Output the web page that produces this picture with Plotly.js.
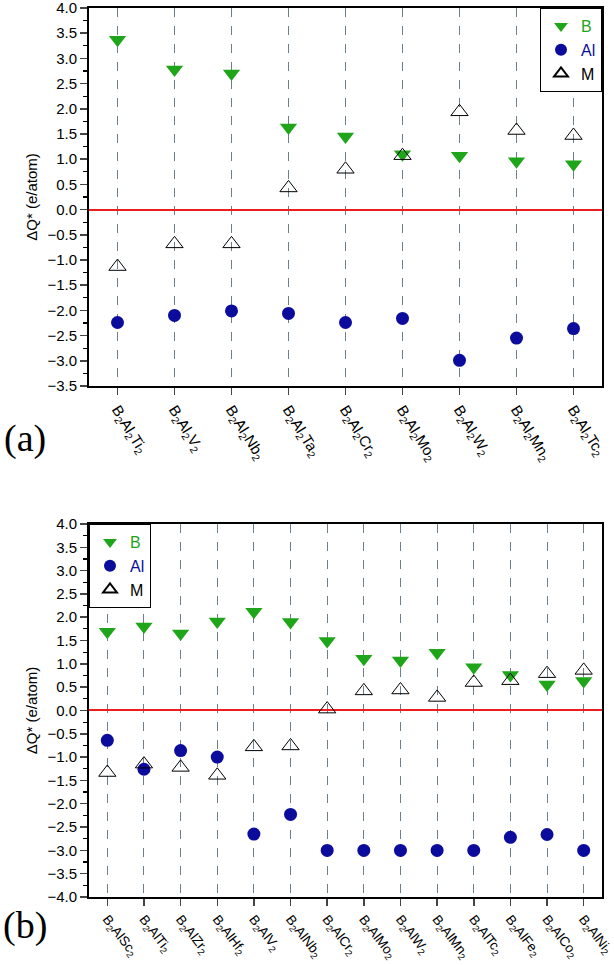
<!DOCTYPE html>
<html>
<head>
<meta charset="utf-8">
<script src="https://cdn.plot.ly/plotly-3.0.1.min.js"></script>
<style>
  html, body { margin: 0; padding: 0; background: #fff; }
  #chart { width: 614px; height: 965px; }
</style>
</head>
<body>
<div id="chart"></div>
<script>
// panel (a): B2Al2M2
const catsA = ['B<sub>2</sub>Al<sub>2</sub>Ti<sub>2</sub>', 'B<sub>2</sub>Al<sub>2</sub>V<sub>2</sub>',
  'B<sub>2</sub>Al<sub>2</sub>Nb<sub>2</sub>', 'B<sub>2</sub>Al<sub>2</sub>Ta<sub>2</sub>',
  'B<sub>2</sub>Al<sub>2</sub>Cr<sub>2</sub>', 'B<sub>2</sub>Al<sub>2</sub>Mo<sub>2</sub>',
  'B<sub>2</sub>Al<sub>2</sub>W<sub>2</sub>', 'B<sub>2</sub>Al<sub>2</sub>Mn<sub>2</sub>',
  'B<sub>2</sub>Al<sub>2</sub>Tc<sub>2</sub>'];
const bA = [3.37, 2.78, 2.70, 1.63, 1.45, 1.10, 1.07, 0.96, 0.90];
const alA = [-2.24, -2.10, -2.01, -2.06, -2.24, -2.16, -2.99, -2.55, -2.36];
const mA = [-1.13, -0.68, -0.68, 0.43, 0.80, 1.07, 1.94, 1.57, 1.47];

// panel (b): B2AlM2
const catsB = ['Sc', 'Ti', 'Zr', 'Hf', 'V', 'Nb', 'Cr', 'Mo', 'W', 'Mn', 'Tc', 'Fe', 'Co', 'Ni']
  .map(m => 'B<sub>2</sub>Al' + m + '<sub>2</sub>');
const bB = [1.69, 1.80, 1.65, 1.91, 2.12, 1.90, 1.49, 1.11, 1.07, 1.24, 0.93, 0.76, 0.56, 0.63];
const alB = [-0.64, -1.26, -0.86, -1.00, -2.65, -2.23, -3.00, -3.00, -3.00, -3.00, -3.00, -2.72, -2.66, -3.00];
const mB = [-1.33, -1.15, -1.22, -1.39, -0.78, -0.76, 0.03, 0.42, 0.44, 0.28, 0.60, 0.64, 0.79, 0.86];

const green = '#1fa51a';
const blue = '#0c0c9c';
const font = 'Liberation Sans, Arial, sans-serif';

function series(x, b, al, m, xa, ya, leg) {
  return [
    { x: x, y: b, xaxis: xa, yaxis: ya, legend: leg, type: 'scatter', mode: 'markers',
      name: '<span style="color:' + green + '">B</span>',
      marker: { symbol: 'triangle-down', size: 15, color: green } },
    { x: x, y: al, xaxis: xa, yaxis: ya, legend: leg, type: 'scatter', mode: 'markers',
      name: '<span style="color:' + blue + '">Al</span>',
      marker: { symbol: 'circle', size: 13, color: blue } },
    { x: x, y: m, xaxis: xa, yaxis: ya, legend: leg, type: 'scatter', mode: 'markers',
      name: 'M',
      marker: { symbol: 'triangle-up-open', size: 15, color: '#000', line: { width: 1 } } }
  ];
}

const data = series(catsA, bA, alA, mA, 'x', 'y', 'legend')
  .concat(series(catsB, bB, alB, mB, 'x2', 'y2', 'legend2'));

const yaxisBase = {
  dtick: 0.5, tickformat: '.1f', ticks: 'outside', ticklen: 7, tickwidth: 1.5,
  minor: { dtick: 0.25, ticks: 'outside', ticklen: 4, tickwidth: 1.2, tickcolor: '#000' },
  showline: true, linecolor: '#000', linewidth: 2, mirror: true,
  showgrid: false, zeroline: true, zerolinecolor: '#ee1c1c', zerolinewidth: 2,
  ticklabeloverflow: 'allow',
  tickfont: { family: font, size: 15, color: '#000' },
  title: { text: 'ΔQ* (e/atom)', font: { family: font, size: 15, color: '#000' }, standoff: 6 }
};
const xaxisBase = {
  type: 'category', ticks: 'outside', ticklen: 7, tickwidth: 1.5,
  showline: true, linecolor: '#000', linewidth: 2, mirror: true,
  showgrid: true, gridcolor: '#6b7f8c', gridwidth: 1, griddash: 'dash'
};

const legendBase = {
  bgcolor: '#fff', bordercolor: '#000', borderwidth: 1,
  font: { family: font, size: 16, color: '#000' },
  itemsizing: 'constant', tracegroupgap: 0
};

const layout = {
  width: 614, height: 965,
  margin: { l: 89, r: 12, t: 8, b: 68 },
  paper_bgcolor: '#fff', plot_bgcolor: '#fff',
  showlegend: true,
  xaxis: Object.assign({}, xaxisBase, { anchor: 'y', range: [-0.5, 8.5], tickangle: 58,
    tickfont: { family: font, size: 15, color: '#000' } }),
  yaxis: Object.assign({}, yaxisBase, { domain: [0.5748, 1], range: [-3.5, 4] }),
  xaxis2: Object.assign({}, xaxisBase, { anchor: 'y2', range: [-0.5, 13.5], tickangle: 52,
    tickfont: { family: font, size: 13.5, color: '#000' } }),
  yaxis2: Object.assign({}, yaxisBase, { domain: [0, 0.4196], range: [-4, 4] }),
  legend: Object.assign({}, legendBase, { x: 1, y: 1, xanchor: 'right', yanchor: 'top' }),
  legend2: Object.assign({}, legendBase, { x: 0, y: 0.4196, xanchor: 'left', yanchor: 'top' }),
  annotations: [
    { text: '(a)', xref: 'paper', yref: 'paper', x: -0.125, y: 0.516, showarrow: false,
      xanchor: 'center', yanchor: 'middle',
      font: { family: 'Liberation Serif, Times New Roman, serif', size: 38, color: '#000' } },
    { text: '(b)', xref: 'paper', yref: 'paper', x: -0.125, y: -0.0315, showarrow: false,
      xanchor: 'center', yanchor: 'middle',
      font: { family: 'Liberation Serif, Times New Roman, serif', size: 38, color: '#000' } }
  ]
};

Plotly.newPlot('chart', data, layout, { staticPlot: true });
</script>
</body>
</html>
